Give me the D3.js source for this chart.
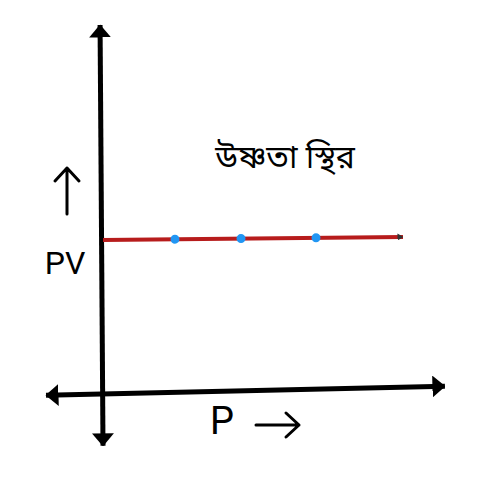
<!DOCTYPE html>
<html>
<head>
<meta charset="utf-8">
<script src="https://cdn.jsdelivr.net/npm/d3@7"></script>
<style>
  html, body { margin: 0; padding: 0; background: #fff; }
  svg { display: block; }
</style>
</head>
<body>
<div id="chart"></div>
<script>
// data
const pValues = [24, 46, 71];           // P positions of the three points
const pvValues = [42.8, 42.8, 42.8];    // PV stays constant
const lineP = [0, 100];                 // extent of the red line
const axisXExtent = [-19, 114];          // horizontal axis, in P units
const axisYExtent = [-14.4, 102.5];      // vertical axis, in PV units
const titleText = "উষ্ণতা স্থির";
const yLabel = "PV";
const xLabel = "P";

const W = 500, H = 500;

const x = d3.scaleLinear().domain([0, 100]).range([103, 403]);
const y = d3.scaleLinear().domain([0, 100]).range([394, 34]);

const svg = d3.select("#chart").append("svg")
    .attr("width", W).attr("height", H);

const defs = svg.append("defs");
function arrow(id, color, len, wid) {
    defs.append("marker")
        .attr("id", id)
        .attr("viewBox", `0 0 ${len} ${wid}`)
        .attr("refX", len - 0.5).attr("refY", wid / 2)
        .attr("markerWidth", len).attr("markerHeight", wid)
        .attr("markerUnits", "userSpaceOnUse")
        .attr("orient", "auto-start-reverse")
        .append("path")
        .attr("d", `M0,0 L${len},${wid / 2} L0,${wid} Z`)
        .attr("fill", color);
}
arrow("ax", "#000", 13, 22);
arrow("rd", "#333", 6, 7);

// vertical axis (slightly hand-drawn slant)
svg.append("line")
    .attr("x1", x(0)).attr("y1", y(axisYExtent[0]))
    .attr("x2", x(0)).attr("y2", y(axisYExtent[1]))
    .attr("transform", `rotate(-0.4, ${x(0)}, ${y(axisYExtent[0])})`)
    .attr("stroke", "#000").attr("stroke-width", 5)
    .attr("marker-start", "url(#ax)")
    .attr("marker-end", "url(#ax)");

// horizontal axis
svg.append("line")
    .attr("x1", x(axisXExtent[0])).attr("y1", y(0))
    .attr("x2", x(axisXExtent[1])).attr("y2", y(0))
    .attr("transform", `rotate(-1.3, ${x(0)}, ${y(0)})`)
    .attr("stroke", "#000").attr("stroke-width", 5)
    .attr("marker-start", "url(#ax)")
    .attr("marker-end", "url(#ax)");

// constant PV line
const g = svg.append("g")
    .attr("transform", `rotate(-0.57, ${x(0)}, ${y(pvValues[0])})`);

g.append("line")
    .attr("x1", x(lineP[0])).attr("y1", y(pvValues[0]))
    .attr("x2", x(lineP[1])).attr("y2", y(pvValues[0]))
    .attr("stroke", "#b71c1c").attr("stroke-width", 4)
    .attr("marker-end", "url(#rd)");

g.selectAll("circle")
    .data(pValues)
    .join("circle")
    .attr("cx", d => x(d))
    .attr("cy", (d, i) => y(pvValues[i]))
    .attr("r", 4.5)
    .attr("fill", "#2196f3");

// texts
svg.append("text")
    .attr("x", 285).attr("y", 168)
    .attr("text-anchor", "middle")
    .style("font-family", "'Noto Sans', 'Noto Sans Bengali', sans-serif")
    .style("font-size", "32px")
    .text(titleText);

svg.append("text")
    .attr("x", 65).attr("y", 274)
    .attr("text-anchor", "middle")
    .style("font-family", "'Roboto', sans-serif")
    .style("font-size", "32px")
    .text(yLabel);

svg.append("text")
    .attr("x", 210).attr("y", 434)
    .style("font-family", "'Roboto', sans-serif")
    .style("font-size", "38px")
    .text(xLabel);

// the hand-written arrows next to the labels
const pen = svg.append("g")
    .attr("fill", "none").attr("stroke", "#000")
    .attr("stroke-width", 3).attr("stroke-linecap", "round")
    .attr("stroke-linejoin", "round");
pen.append("path").attr("d", "M67,214 L67,168 M55,181 L67,168 L79,181");
pen.append("path").attr("d", "M256,425 L299,425 M286,413 L299,425 L286,437");
</script>
</body>
</html>
